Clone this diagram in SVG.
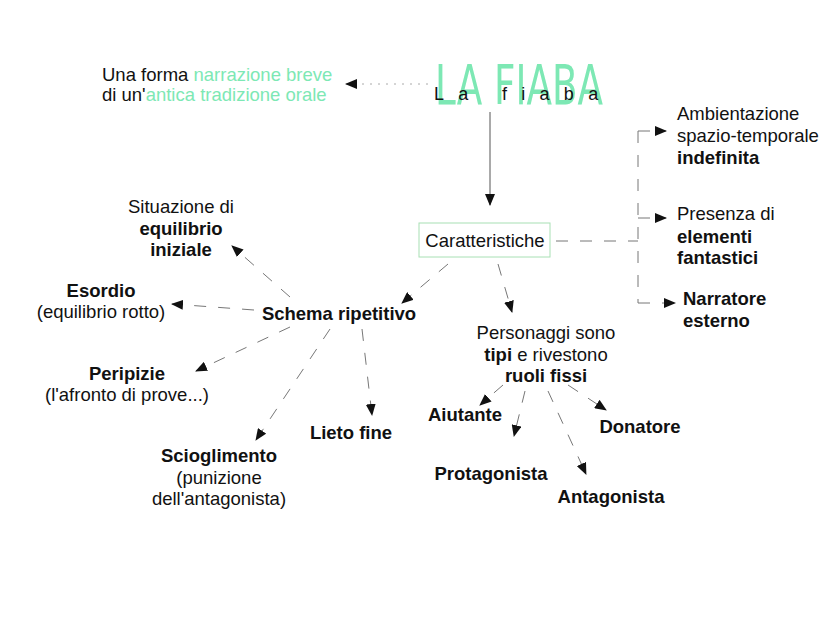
<svg xmlns="http://www.w3.org/2000/svg" width="828" height="621" viewBox="0 0 828 621">
<style>
text{font-family:"Liberation Sans",Arial,sans-serif;font-size:18.5px;fill:#111}
.b{font-weight:bold}
.g{fill:#7de8b4}
.m{text-anchor:middle}
.c{fill:none;stroke:#777;stroke-width:1;stroke-dasharray:12 12}
</style>
<defs><marker id="a" markerWidth="12" markerHeight="10" refX="11" refY="5" orient="auto" markerUnits="userSpaceOnUse"><path d="M0,0L12,5L0,10z" fill="#111"/></marker></defs>
<rect width="828" height="621" fill="#fff"/>
<g id="connectors">
<path d="M428,84H346" fill="none" stroke="#aaa" stroke-dasharray="2 6" marker-end="url(#a)"/>
<path d="M490,112V205" stroke="#555" marker-end="url(#a)"/>
<path class="c" d="M556,241H638"/>
<path class="c" d="M638,131V303"/>
<path class="c" d="M638,131H666" marker-end="url(#a)"/>
<path class="c" d="M638,218H666" marker-end="url(#a)"/>
<path class="c" d="M638,303H675" marker-end="url(#a)"/>
<path class="c" d="M448,264L402,303" marker-end="url(#a)"/>
<path class="c" d="M498,264L512,312" marker-end="url(#a)"/>
<path class="c" d="M290,297L232,246" marker-end="url(#a)"/>
<path class="c" d="M254,310L172,304" marker-end="url(#a)"/>
<path class="c" d="M290,327L196,371" marker-end="url(#a)"/>
<path class="c" d="M330,329L256,440" marker-end="url(#a)"/>
<path class="c" d="M362,329L372,415" marker-end="url(#a)"/>
<path class="c" d="M503,385L480,405" marker-end="url(#a)"/>
<path class="c" d="M525,391L514,436" marker-end="url(#a)"/>
<path class="c" d="M548,391L586,474" marker-end="url(#a)"/>
<path class="c" d="M568,385L606,410" marker-end="url(#a)"/>
</g>
<g id="title">
<text x="519" y="104" class="m g" style="font-family:'DejaVu Sans Condensed',sans-serif;font-size:56px" transform="translate(519 104) scale(0.74 1) translate(-519 -104)">LA FIABA</text>
<text x="434" y="100" style="font-size:18px;letter-spacing:14.3px">La fiaba</text>
</g>
<g id="def"><text x="102" y="81">Una forma <tspan class="g">narrazione breve</tspan></text><text x="102" y="101">di un'<tspan class="g">antica tradizione orale</tspan></text></g>
<g id="car"><rect x="419" y="223" width="131" height="34" fill="none" stroke="#a8e0b4"/><text x="485" y="247" class="m">Caratteristiche</text></g>
<g id="amb"><text x="677" y="120">Ambientazione</text><text x="677" y="142">spazio-temporale</text><text x="677" y="164" class="b">indefinita</text></g>
<g id="pres"><text x="677" y="220">Presenza di</text><text x="677" y="243" class="b">elementi</text><text x="677" y="264" class="b">fantastici</text></g>
<g id="narr"><text x="683" y="305" class="b">Narratore</text><text x="683" y="327" class="b">esterno</text></g>
<g id="schema"><text x="339" y="320" class="m b">Schema ripetitivo</text></g>
<g id="sit"><text x="181" y="213" class="m">Situazione di</text><text x="181" y="235" class="m b">equilibrio</text><text x="181" y="256" class="m b">iniziale</text></g>
<g id="eso"><text x="101" y="297" class="m b">Esordio</text><text x="101" y="318" class="m">(equilibrio rotto)</text></g>
<g id="per"><text x="127" y="380" class="m b">Peripizie</text><text x="127" y="401" class="m">(l'afronto di prove...)</text></g>
<g id="sci"><text x="219" y="462" class="m b">Scioglimento</text><text x="219" y="484" class="m">(punizione</text><text x="219" y="505" class="m">dell'antagonista)</text></g>
<g id="lieto"><text x="351" y="439" class="m b">Lieto fine</text></g>
<g id="pers"><text x="546" y="339" class="m">Personaggi sono</text><text x="546" y="361" class="m"><tspan class="b">tipi</tspan> e rivestono</text><text x="546" y="382" class="m b">ruoli fissi</text></g>
<g id="aiu"><text x="465" y="421" class="m b">Aiutante</text></g>
<g id="pro"><text x="491" y="480" class="m b">Protagonista</text></g>
<g id="ant"><text x="611" y="503" class="m b">Antagonista</text></g>
<g id="don"><text x="640" y="433" class="m b">Donatore</text></g>
</svg>
